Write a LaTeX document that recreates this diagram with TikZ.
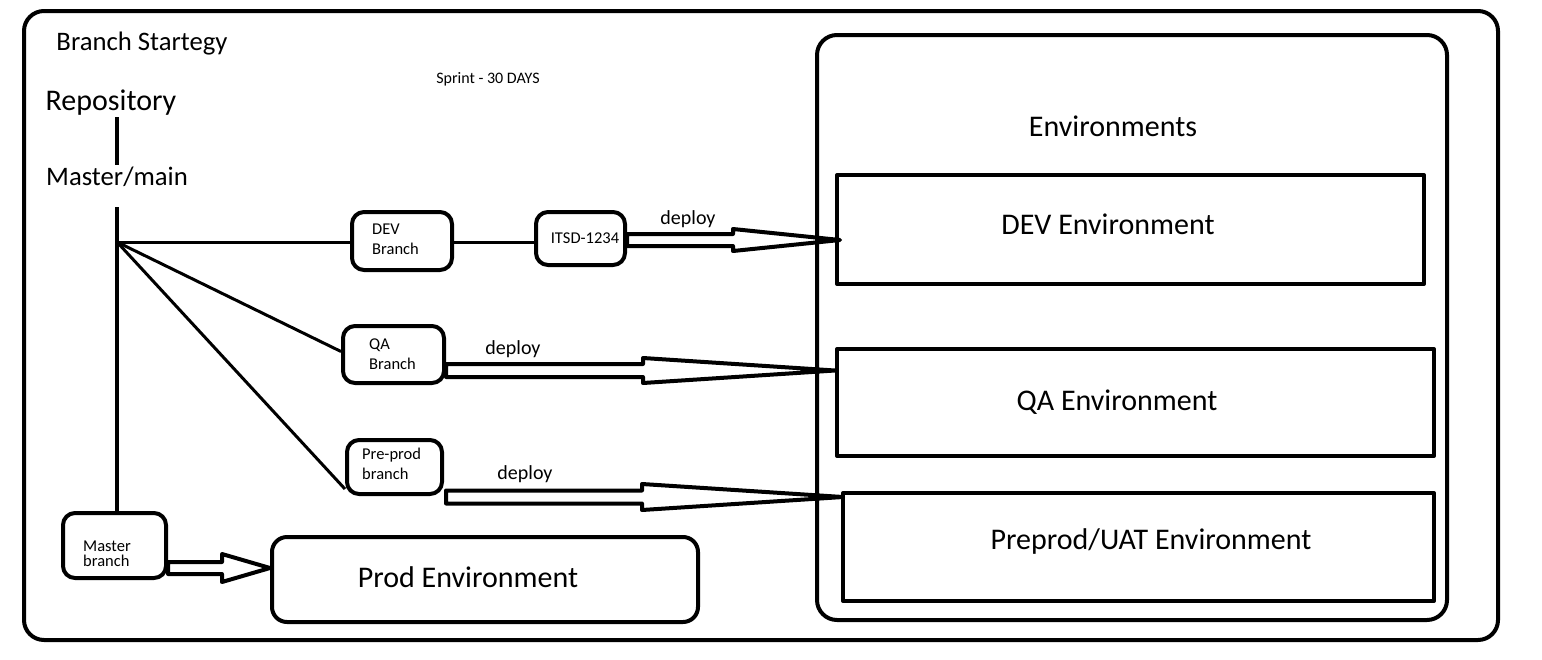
\documentclass[tikz,border=0pt]{standalone}
\usepackage{fontspec}
\setmainfont{Carlito}
\usetikzlibrary{calc}
\begin{document}
\begin{tikzpicture}[x=1pt,y=-1pt,
  box/.style={draw,line width=4pt,inner sep=0pt,line join=round},
  rbox/.style={box,rounded corners=#1},
  rbox/.default=12pt,
  conn/.style={line width=3pt},
  trunk/.style={line width=4.5pt},
  big/.style={inner sep=0pt,font=\fontsize{30}{36}\selectfont},
  mid/.style={inner sep=0pt,font=\fontsize{26.7}{32}\selectfont},
  dep/.style={inner sep=0pt,font=\fontsize{20}{24}\selectfont},
  small/.style={inner sep=0pt,align=left,anchor=west,font=\fontsize{16.5}{20}\selectfont},
  blockarrow/.style n args={3}{line width=4pt,line join=round,
    to path={let \p1=(\tikztostart),\p2=(\tikztotarget) in
      (\x1,{\y2+#1}) -- ({\x2-#3},{\y2+#1}) -- ({\x2-#3},{\y2+#2}) -- (\x2,\y2)
      -- ({\x2-#3},{\y2-#2}) -- ({\x2-#3},{\y2-#1}) -- (\x1,{\y2-#1}) -- cycle}}
]
\useasboundingbox (0,0) rectangle (1542,659);

% frames
\node[rbox=20pt,minimum width=1474pt,minimum height=629pt] (frame) at (761,325.5) {};
\node[rbox=20pt,minimum width=630pt,minimum height=585pt] (envbox) at (1132,327.5) {};

% titles
\node[mid] (title) at (142,44) {Branch Startegy};
\node[inner sep=0pt,font=\fontsize{16}{20}\selectfont] (sprint) at (488,79) {Sprint - 30 DAYS};
\node[big] (repo) at (111,103) {Repository};
\node[mid] (mm) at (117,177) {Master/main};
\node[big] (envt) at (1113,126) {Environments};

% environments
\node[box,minimum width=587pt,minimum height=109pt] (devenv) at (1130.5,229.5) {};
\node[big] (devenvt) at (1108,224) {DEV Environment};
\node[box,minimum width=597pt,minimum height=107pt] (qaenv) at (1135.5,402.5) {};
\node[big] (qaenvt) at (1117,402) {QA Environment};
\node[box,minimum width=591pt,minimum height=108pt] (ppenv) at (1138.5,547) {};
\node[big] (ppenvt) at (1151,541) {Preprod/UAT Environment};
\node[rbox=15pt,minimum width=426pt,minimum height=85pt] (prodenv) at (485,579.5) {};
\node[big] (prodenvt) at (468,577) {Prod Environment};

% branch boxes
\node[rbox,minimum width=100pt,minimum height=58pt] (devbr) at (402,241) {};
\node[small] (devbrt) at (372,239.5) {DEV\\Branch};
\node[rbox,minimum width=89pt,minimum height=53pt] (itsd) at (580.5,238.5) {};
\node[inner sep=0pt,font=\fontsize{16.5}{20}\selectfont] (itsdt) at (585,238) {ITSD-1234};
\node[rbox,minimum width=101pt,minimum height=57pt] (qabr) at (393.5,354.5) {};
\node[small] (qabrt) at (369,354.5) {QA\\Branch};
\node[rbox,minimum width=95pt,minimum height=54pt] (ppbr) at (394.5,467) {};
\node[small] (ppbrt) at (362,464) {Pre-prod\\branch};
\node[rbox,minimum width=103pt,minimum height=65pt] (master) at (114.5,545.5) {};
\node[small,font=\fontsize{16.5}{15}\selectfont] (mastert) at (83,554) {Master\\branch};

% trunk
\coordinate (hub) at (117,242);
\coordinate (trunktop) at (117,207);
\draw[trunk] (117,117) -- (117,165);
\draw[trunk] (trunktop) -- (master.north -| hub);
\draw[conn] (hub) -- (devbr.west |- hub);
\draw[conn] (hub) -- ([yshift=3pt]qabr.west);
\draw[conn] (hub) -- ([yshift=7pt]ppbr.south west);
\draw[conn] (devbr.east |- hub) -- (itsd.west |- hub);

% deploy arrows
\coordinate (devtip) at (840,240);
\coordinate (qatip) at (835,370.5);
\coordinate (pptip) at (843,497);
\coordinate (prodtip) at (270,568);
\draw[blockarrow={6pt}{11pt}{107pt}] (itsd.east) to (devtip);
\draw[blockarrow={6.5pt}{12.5pt}{192pt}] (qabr.east) to (qatip);
\draw[blockarrow={6.5pt}{13pt}{201pt}] ([xshift=2pt]ppbr.east) to (pptip);
\draw[blockarrow={6pt}{14pt}{48pt}] (master.east) to (prodtip);

\node[dep] (dep1) at (688,219) {deploy};
\node[dep] (dep2) at (513,349) {deploy};
\node[dep] (dep3) at (525,474) {deploy};
\end{tikzpicture}
\end{document}
